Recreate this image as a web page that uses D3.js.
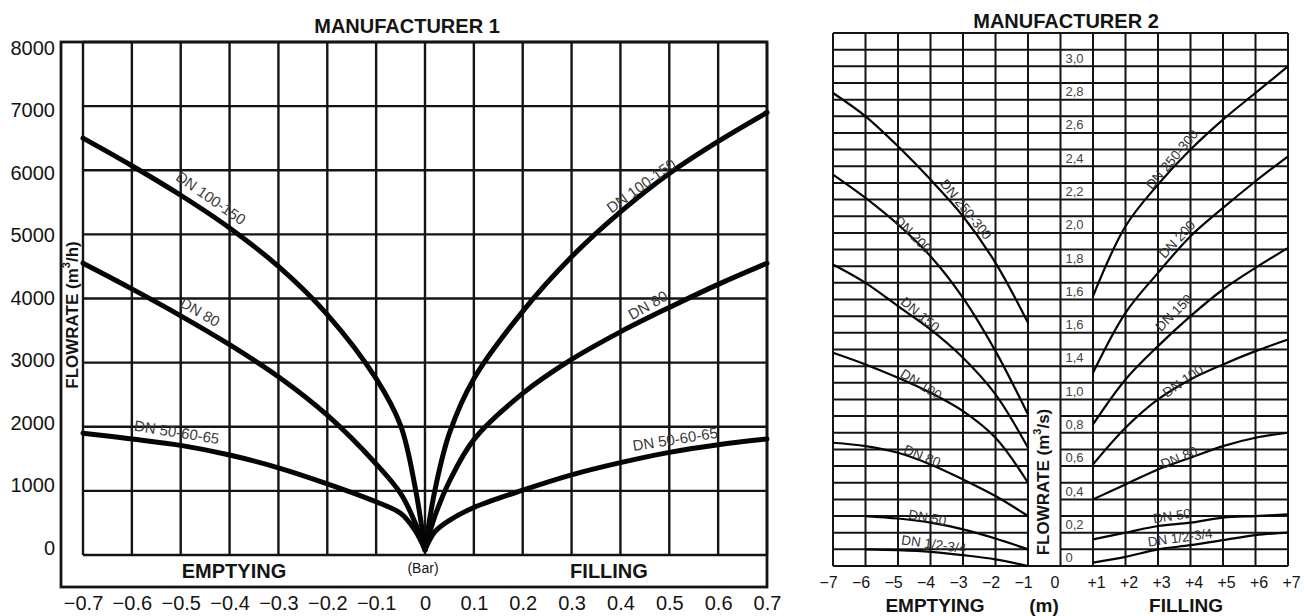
<!DOCTYPE html>
<html>
<head>
<meta charset="utf-8">
<script src="https://cdn.jsdelivr.net/npm/d3@7"></script>
<style>
  body { margin: 0; background: #fff; }
  svg { display: block; font-family: "Liberation Sans", Arial, Helvetica, sans-serif; }
</style>
</head>
<body>
<svg width="1304" height="616"></svg>
<script>
// ---- Manufacturer 1 : pressure (bar) vs flowrate (m3/h)
const m1XTicks = [-0.7, -0.6, -0.5, -0.4, -0.3, -0.2, -0.1, 0, 0.1, 0.2, 0.3, 0.4, 0.5, 0.6, 0.7];
const m1YTicks = [0, 1000, 2000, 3000, 4000, 5000, 6000, 7000, 8000];
const m1Names = ["DN 100-150", "DN 80", "DN 50-60-65"];
const m1EmptyX = [-0.7, -0.6, -0.5, -0.4, -0.3, -0.2, -0.1, -0.05, -0.02, 0];
const m1Emptying = [
  [6500, 6070, 5610, 5100, 4500, 3750, 2750, 2020, 1050, 80],
  [4550, 4150, 3730, 3280, 2780, 2180, 1420, 960, 500, 80],
  [1900, 1810, 1710, 1560, 1360, 1110, 830, 650, 380, 80]
];
const m1FillX = [0, 0.02, 0.05, 0.1, 0.2, 0.3, 0.4, 0.5, 0.6, 0.7];
const m1Filling = [
  [80, 1000, 1900, 2750, 3800, 4650, 5350, 5950, 6450, 6900],
  [80, 600, 1150, 1800, 2520, 3050, 3480, 3860, 4220, 4550],
  [80, 360, 540, 740, 1010, 1250, 1440, 1600, 1720, 1810]
];
// label anchors in data units: [x, y, angle]
const m1EmptyLabels = [[-0.438, 5570, 35], [-0.46, 3790, 30], [-0.508, 1920, 9]];
const m1FillLabels = [[0.442, 5760, -36], [0.456, 3900, -30], [0.512, 1810, -9]];

// ---- Manufacturer 2 : head (m) vs flowrate (m3/s)
const m2XTicks = [-7, -6, -5, -4, -3, -2, -1, 0, 1, 2, 3, 4, 5, 6, 7];
const m2YTickVals = [0, 0.2, 0.4, 0.6, 0.8, 1.0, 1.2, 1.4, 1.6, 1.8, 2.0, 2.2, 2.4, 2.6, 2.8, 3.0];
const m2YTickLabels = ["0", "0,2", "0,4", "0,6", "0,8", "1,0", "1,4", "1,6", "1,6", "1,8", "2,0", "2,2", "2,4", "2,6", "2,8", "3,0"];
const m2Names = ["DN 250-300", "DN 200", "DN 150", "DN 100", "DN 80", "DN 50", "DN 1/2-3/4"];
const m2EmptyX = [-7, -6, -5, -4, -3, -2, -1];
const m2Emptying = [
  [2.84, 2.70, 2.52, 2.32, 2.10, 1.82, 1.46],
  [2.35, 2.21, 2.05, 1.86, 1.61, 1.29, 0.91],
  [1.81, 1.70, 1.56, 1.42, 1.25, 1.03, 0.71],
  [1.28, 1.21, 1.13, 1.04, 0.93, 0.77, 0.50],
  [0.74, 0.72, 0.68, 0.61, 0.52, 0.42, 0.30],
  [null, 0.30, 0.285, 0.26, 0.22, 0.165, 0.10],
  [null, 0.10, 0.095, 0.085, 0.065, 0.04, 0.0]
];
const m2FillX = [1, 2, 3, 4, 5, 6, 7];
const m2Filling = [
  [1.62, 2.04, 2.29, 2.50, 2.68, 2.84, 3.00],
  [1.16, 1.52, 1.76, 1.98, 2.15, 2.31, 2.46],
  [0.85, 1.12, 1.32, 1.50, 1.66, 1.79, 1.91],
  [0.61, 0.83, 1.00, 1.12, 1.21, 1.29, 1.36],
  [0.40, 0.49, 0.58, 0.65, 0.72, 0.77, 0.80],
  [0.16, 0.20, 0.24, 0.26, 0.29, 0.30, 0.31],
  [0.02, 0.055, 0.10, 0.125, 0.155, 0.185, 0.20]
];
const m2EmptyLabels = [[-2.91, 2.14, 51], [-4.54, 1.99, 45], [-4.32, 1.51, 40], [-4.29, 1.09, 32], [-4.26, 0.66, 22], [-4.1, 0.29, 10], [-3.9, 0.13, 8]];
const m2FillLabels = [[3.43, 2.44, -50], [3.59, 1.96, -47], [3.49, 1.52, -45], [3.77, 1.11, -35], [3.65, 0.65, -22], [3.43, 0.30, -8], [3.68, 0.17, -8]];

const FONT = '"Liberation Sans", Arial, Helvetica, sans-serif';
const INK = "#141414";
const svg = d3.select("svg");

function styleAxis(g, size, weight) {
  g.select(".domain").remove();
  g.attr("font-family", FONT).attr("font-size", size);
  g.selectAll("text").attr("fill", INK).attr("font-weight", weight || "normal");
}

// ================= chart 1 =================
const x1 = d3.scaleLinear().domain([-0.7, 0.7]).range([83, 767]);
const y1 = d3.scaleLinear().domain([0, 8000]).range([555, 42]);
const frameLeft = 61, frameBottom = 587;
const c1 = svg.append("g");

c1.append("g").selectAll("line").data(m1XTicks).join("line")
  .attr("x1", d => x1(d)).attr("x2", d => x1(d))
  .attr("y1", y1(8000)).attr("y2", y1(0))
  .attr("stroke", INK).attr("stroke-width", 2.4);
c1.append("g").selectAll("line").data(m1YTicks).join("line")
  .attr("x1", x1(-0.7)).attr("x2", x1(0.7))
  .attr("y1", d => y1(d)).attr("y2", d => y1(d))
  .attr("stroke", INK).attr("stroke-width", 2.4);
c1.append("rect")
  .attr("x", frameLeft).attr("y", y1(8000))
  .attr("width", x1(0.7) - frameLeft).attr("height", frameBottom - y1(8000))
  .attr("fill", "none").attr("stroke", INK).attr("stroke-width", 2.8);

c1.append("g").attr("transform", `translate(0,${frameBottom})`)
  .call(d3.axisBottom(x1).tickValues(m1XTicks).tickSize(0).tickPadding(9)
    .tickFormat(d => d === 0 ? "0" : d3.format(".1f")(d)))
  .call(g => styleAxis(g, 20));

const y1Lab = y1.copy().range([548, 48]);
c1.append("g").attr("transform", `translate(${frameLeft},0)`)
  .call(d3.axisLeft(y1Lab).tickValues(m1YTicks).tickSize(0).tickPadding(6).tickFormat(d3.format("d")))
  .call(g => styleAxis(g, 20));

const line1 = d3.line().x(d => x1(d[0])).y(d => y1(d[1])).curve(d3.curveCatmullRom.alpha(0.5));
m1Emptying.forEach(vals => {
  c1.append("path").attr("d", line1(m1EmptyX.map((x, j) => [x, vals[j]])))
    .attr("fill", "none").attr("stroke", "#050505").attr("stroke-width", 5).attr("stroke-linecap", "round");
});
m1Filling.forEach(vals => {
  c1.append("path").attr("d", line1(m1FillX.map((x, j) => [x, vals[j]])))
    .attr("fill", "none").attr("stroke", "#050505").attr("stroke-width", 5).attr("stroke-linecap", "round");
});
[m1EmptyLabels, m1FillLabels].forEach(set => {
  c1.append("g").selectAll("text").data(set).join("text")
    .attr("transform", d => `translate(${x1(d[0])},${y1(d[1])}) rotate(${d[2]})`)
    .attr("text-anchor", "middle").attr("dominant-baseline", "central")
    .attr("font-size", 15).attr("fill", "#3c3c3c")
    .text((d, i) => m1Names[i]);
});

c1.append("text").attr("x", 407).attr("y", 33).attr("text-anchor", "middle")
  .attr("font-size", 20).attr("font-weight", "bold").attr("fill", INK).text("MANUFACTURER 1");
c1.append("text").attr("x", 234).attr("y", 578).attr("text-anchor", "middle")
  .attr("font-size", 20).attr("font-weight", "bold").attr("fill", INK).text("EMPTYING");
c1.append("text").attr("x", 609).attr("y", 578).attr("text-anchor", "middle")
  .attr("font-size", 20).attr("font-weight", "bold").attr("fill", INK).text("FILLING");
c1.append("text").attr("x", x1(0) - 2).attr("y", 573).attr("text-anchor", "middle")
  .attr("font-size", 14).attr("fill", INK).text("(Bar)");
const t1 = c1.append("text").attr("transform", "translate(72,315) rotate(-90)")
  .attr("text-anchor", "middle").attr("dominant-baseline", "central")
  .attr("font-size", 17).attr("font-weight", "bold").attr("fill", INK);
t1.append("tspan").text("FLOWRATE (m");
t1.append("tspan").attr("font-size", 11).attr("dy", -6).text("3");
t1.append("tspan").attr("dy", 6).text("/h)");

// ================= chart 2 =================
const x2 = d3.scaleLinear().domain([-7, 7]).range([833, 1288]);
const y2 = d3.scaleLinear().domain([0, 3.2]).range([566, 33]);
const c2 = svg.append("g");
const hLines = d3.range(33).map(i => i / 10);

c2.append("g").selectAll("line").data(m2XTicks).join("line")
  .attr("x1", d => x2(d)).attr("x2", d => x2(d))
  .attr("y1", y2(3.2)).attr("y2", y2(0))
  .attr("stroke", INK).attr("stroke-width", 2);
// horizontal grid; the FLOWRATE title cell (between -1 and 0, below 1.0) stays white
const hSegs = [];
hLines.forEach(v => {
  if (v > 0.05 && v < 0.95) {
    hSegs.push([v, -7, -1]);
    hSegs.push([v, 0, 7]);
  } else {
    hSegs.push([v, -7, 7]);
  }
});
c2.append("g").selectAll("line").data(hSegs).join("line")
  .attr("x1", d => x2(d[1])).attr("x2", d => x2(d[2]))
  .attr("y1", d => y2(d[0])).attr("y2", d => y2(d[0]))
  .attr("stroke", INK).attr("stroke-width", 2);

c2.append("g").attr("transform", `translate(0,${y2(0)})`)
  .call(d3.axisBottom(x2).tickValues(m2XTicks).tickSize(0).tickPadding(11)
    .tickFormat(d => d < 0 ? "\u2212" + (-d) : d > 0 ? "+" + d : "0"))
  .call(g => styleAxis(g, 16))
  .call(g => g.selectAll("text").attr("dx", d => d < 0 ? -5 : d > 0 ? 3 : -6));

c2.append("g").attr("transform", `translate(${x2(0) + 5},${y2(0.05) - y2(0)})`)
  .call(d3.axisRight(y2).tickValues(m2YTickVals).tickSize(0).tickPadding(0)
    .tickFormat((d, i) => m2YTickLabels[i]))
  .call(g => styleAxis(g, 13))
  .call(g => g.selectAll("text").attr("fill", "#444"));

const line2 = d3.line().defined(d => d[1] != null)
  .x(d => x2(d[0])).y(d => y2(d[1])).curve(d3.curveCatmullRom.alpha(0.5));
m2Emptying.forEach(vals => {
  c2.append("path").attr("d", line2(m2EmptyX.map((x, j) => [x, vals[j]])))
    .attr("fill", "none").attr("stroke", "#050505").attr("stroke-width", 2.2);
});
m2Filling.forEach(vals => {
  c2.append("path").attr("d", line2(m2FillX.map((x, j) => [x, vals[j]])))
    .attr("fill", "none").attr("stroke", "#050505").attr("stroke-width", 2.2);
});
[m2EmptyLabels, m2FillLabels].forEach(set => {
  c2.append("g").selectAll("text").data(set).join("text")
    .attr("transform", d => `translate(${x2(d[0])},${y2(d[1])}) rotate(${d[2]})`)
    .attr("text-anchor", "middle").attr("dominant-baseline", "central")
    .attr("font-size", 13.5).attr("fill", "#333")
    .text((d, i) => m2Names[i]);
});

c2.append("text").attr("x", 1066).attr("y", 28).attr("text-anchor", "middle")
  .attr("font-size", 20).attr("font-weight", "bold").attr("fill", INK).text("MANUFACTURER 2");
c2.append("text").attr("x", 935).attr("y", 612).attr("text-anchor", "middle")
  .attr("font-size", 19).attr("font-weight", "bold").attr("fill", INK).text("EMPTYING");
c2.append("text").attr("x", 1044).attr("y", 612).attr("text-anchor", "middle")
  .attr("font-size", 19).attr("font-weight", "bold").attr("fill", INK).text("(m)");
c2.append("text").attr("x", 1186).attr("y", 612).attr("text-anchor", "middle")
  .attr("font-size", 19).attr("font-weight", "bold").attr("fill", INK).text("FILLING");
const t2 = c2.append("text").attr("transform", `translate(${(x2(-1) + x2(0)) / 2 - 1},482) rotate(-90)`)
  .attr("text-anchor", "middle").attr("dominant-baseline", "central")
  .attr("font-size", 17).attr("font-weight", "bold").attr("fill", INK);
t2.append("tspan").text("FLOWRATE (m");
t2.append("tspan").attr("font-size", 11).attr("dy", -6).text("3");
t2.append("tspan").attr("dy", 6).text("/s)");
</script>
</body>
</html>
